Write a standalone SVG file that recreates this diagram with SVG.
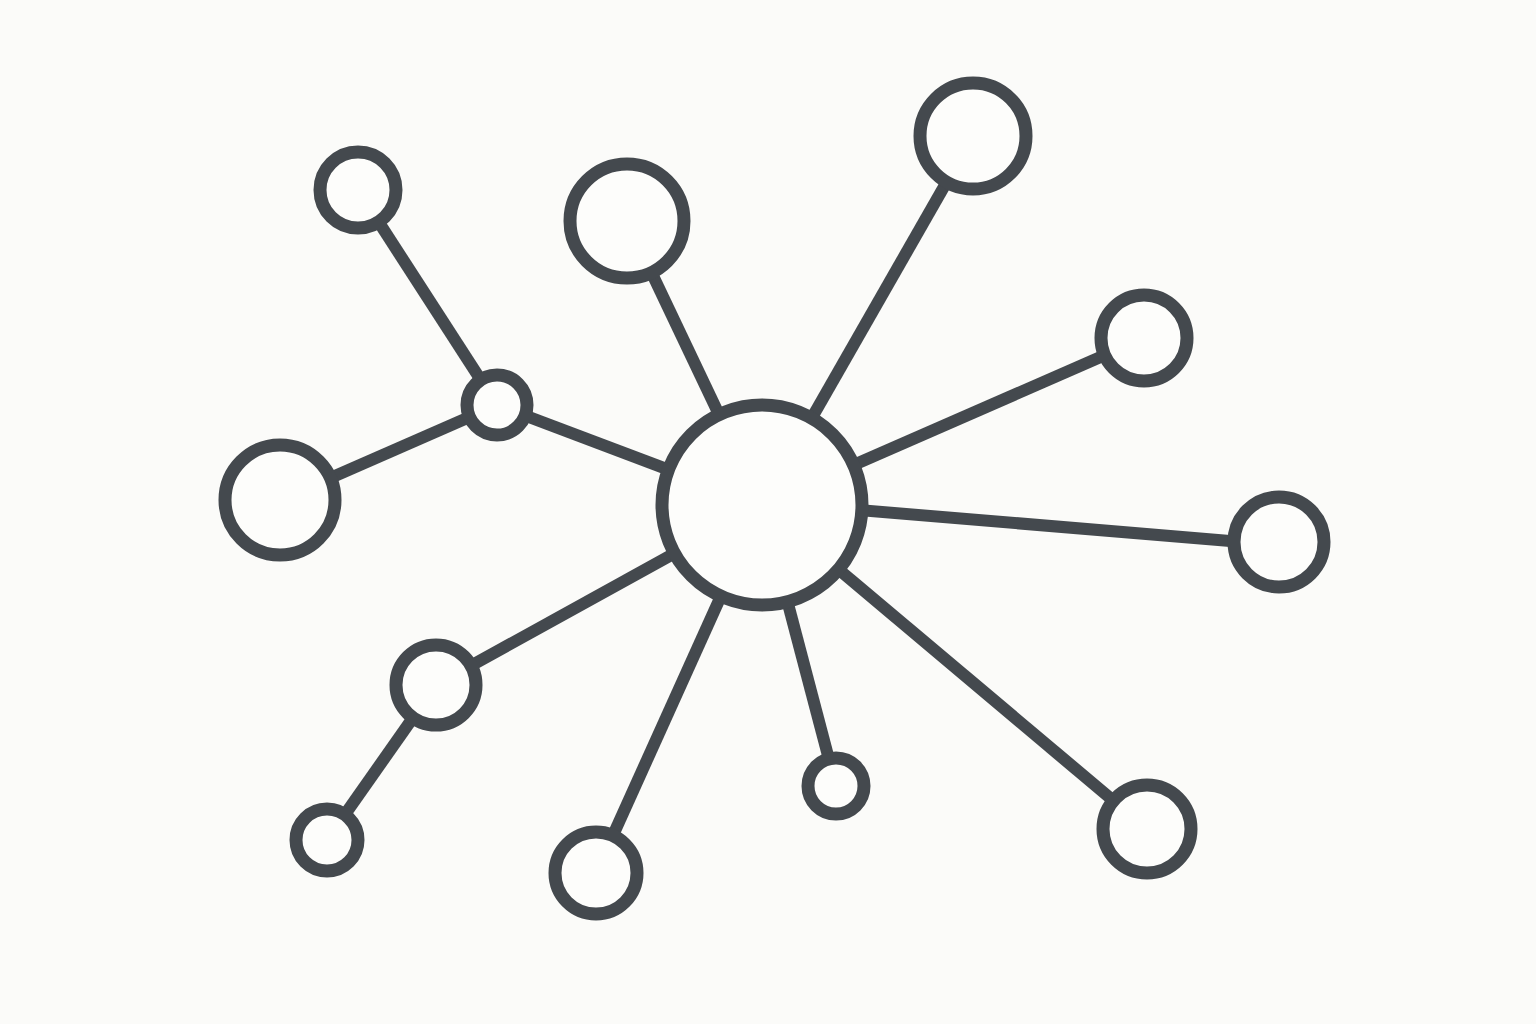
<svg xmlns="http://www.w3.org/2000/svg" width="1536" height="1024" viewBox="0 0 1536 1024">
<style>
.edge{stroke:#44494e;stroke-width:12;stroke-linecap:butt;fill:none}
.node{stroke:#44494e;stroke-width:13;fill:#fdfdfb}
</style>
<rect width="1536" height="1024" fill="#fbfbf9"/>
<g id="connectors">
<line class="edge" x1="358" y1="190" x2="497" y2="405"/>
<line class="edge" x1="280" y1="500" x2="497" y2="405"/>
<line class="edge" x1="497" y1="405" x2="762" y2="505"/>
<line class="edge" x1="627" y1="221" x2="762" y2="505"/>
<line class="edge" x1="973" y1="136" x2="762" y2="505"/>
<line class="edge" x1="1144" y1="338" x2="762" y2="505"/>
<line class="edge" x1="1279" y1="545" x2="762" y2="502"/>
<line class="edge" x1="1147" y1="829" x2="762" y2="505"/>
<line class="edge" x1="836" y1="786" x2="762" y2="505"/>
<line class="edge" x1="596" y1="873" x2="762" y2="505"/>
<line class="edge" x1="436" y1="685" x2="762" y2="505"/>
<line class="edge" x1="327" y1="840" x2="436" y2="685"/>
</g>
<g id="hub"><circle class="node" cx="762" cy="505" r="100"/></g>
<g id="n1"><circle class="node" cx="358" cy="190" r="38"/></g>
<g id="n2"><circle class="node" cx="497" cy="405" r="30"/></g>
<g id="n3"><circle class="node" cx="280" cy="500" r="55"/></g>
<g id="n4"><circle class="node" cx="627" cy="221" r="57"/></g>
<g id="n5"><circle class="node" cx="973" cy="136" r="53"/></g>
<g id="n6"><circle class="node" cx="1144" cy="338" r="43"/></g>
<g id="n7"><circle class="node" cx="1279" cy="542" r="45"/></g>
<g id="n8"><circle class="node" cx="1147" cy="829" r="44"/></g>
<g id="n9"><circle class="node" cx="836" cy="786" r="28"/></g>
<g id="n10"><circle class="node" cx="596" cy="873" r="41"/></g>
<g id="n11"><circle class="node" cx="436" cy="685" r="40"/></g>
<g id="n12"><circle class="node" cx="327" cy="840" r="31"/></g>
</svg>
